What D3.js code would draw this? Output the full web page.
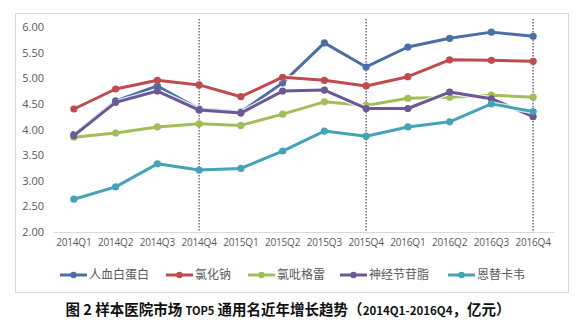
<!DOCTYPE html>
<html lang="zh">
	<head>
		<meta charset="utf-8">
		<title>TOP5 通用名近年增长趋势</title>
		<script src="https://d3js.org/d3.v7.min.js"></script>
		<style type="text/css">
			body { margin: 0; background: #ffffff; }
			svg { display: block; }
		</style>
	</head>
	<body>
		<script type="text/javascript">

			//Categories and series
			var quarters = ["2014Q1", "2014Q2", "2014Q3", "2014Q4", "2015Q1", "2015Q2",
							"2015Q3", "2015Q4", "2016Q1", "2016Q2", "2016Q3", "2016Q4"];
			var albumin   = [3.90, 4.56, 4.85, 4.40, 4.34, 4.91, 5.69, 5.22, 5.61, 5.78, 5.90, 5.82];
			var nacl      = [4.40, 4.79, 4.96, 4.87, 4.64, 5.02, 4.96, 4.85, 5.03, 5.36, 5.35, 5.33];
			var clopid    = [3.85, 3.93, 4.05, 4.11, 4.08, 4.30, 4.54, 4.47, 4.61, 4.63, 4.67, 4.63];
			var ganglio   = [3.88, 4.53, 4.75, 4.38, 4.32, 4.75, 4.77, 4.41, 4.41, 4.73, 4.60, 4.25];
			var entecavir = [2.64, 2.88, 3.33, 3.21, 3.24, 3.58, 3.97, 3.87, 4.05, 4.15, 4.50, 4.35];
			var seriesNames = ["人血白蛋白", "氯化钠", "氯吡格雷", "神经节苷脂", "恩替卡韦"];
			var yTicks = [2.00, 2.50, 3.00, 3.50, 4.00, 4.50, 5.00, 5.50, 6.00];
			var markedQuarters = ["2014Q4", "2015Q4", "2016Q4"];

			var seriesValues = [albumin, nacl, clopid, ganglio, entecavir];
			var colors = ["#4a6fa6", "#bf4b4f", "#a3bd5a", "#6c5897", "#45a3b7"];

			//Width and height
			var w = 575;
			var h = 325;

			var svg = d3.select("body")
						.append("svg")
						.attr("width", w)
						.attr("height", h);

			//Chart frame
			svg.append("rect")
				.attr("x", 15.5)
				.attr("y", 13.5)
				.attr("width", 553)
				.attr("height", 279)
				.attr("fill", "#ffffff")
				.attr("stroke", "#d9d9d9");

			//Scales
			var xScale = d3.scaleBand()
					.domain(quarters)
					.range([53, 554]);

			var yScale = d3.scaleLinear()
					.domain([2, 6])
					.range([232, 27]);

			function cx(q) { return xScale(q) + xScale.bandwidth() / 2; }

			//Y axis (labels only)
			var yAxis = d3.axisLeft(yScale)
					.tickValues(yTicks)
					.tickFormat(d3.format(".2f"))
					.tickSize(0)
					.tickPadding(0);

			var gy = svg.append("g")
				.attr("transform", "translate(44,0)")
				.call(yAxis);
			gy.select(".domain").remove();
			gy.selectAll("text")
				.attr("font-family", "'Open Sans', 'Noto Sans', sans-serif")
				.attr("font-size", "11px")
				.attr("fill", "#595959");

			//X axis
			var xAxis = d3.axisBottom(xScale)
					.tickSize(0)
					.tickPadding(7);

			var gx = svg.append("g")
				.attr("transform", "translate(0,232)")
				.call(xAxis);
			gx.select(".domain")
				.attr("stroke", "#d9d9d9");
			gx.selectAll("text")
				.attr("font-family", "'Open Sans', 'Noto Sans', sans-serif")
				.attr("font-size", "10px")
				.attr("letter-spacing", "-0.2px")
				.attr("fill", "#595959");

			//Dotted year-end markers
			svg.selectAll("line.marker")
				.data(markedQuarters)
				.enter()
				.append("line")
				.attr("class", "marker")
				.attr("x1", function(d) { return cx(d); })
				.attr("x2", function(d) { return cx(d); })
				.attr("y1", 19)
				.attr("y2", 232)
				.attr("stroke", "#595959")
				.attr("stroke-width", 1.3)
				.attr("stroke-dasharray", "1.5,1.5");

			//Lines
			var line = d3.line()
					.x(function(d, i) { return cx(quarters[i]); })
					.y(function(d) { return yScale(d); });

			var groups = svg.selectAll("g.series")
				.data(seriesValues)
				.enter()
				.append("g")
				.attr("class", "series");

			groups.append("path")
				.attr("d", line)
				.attr("fill", "none")
				.attr("stroke", "#ffffff")
				.attr("stroke-opacity", 0.8)
				.attr("stroke-width", 5.5)
				.attr("stroke-linejoin", "round");

			groups.append("path")
				.attr("d", line)
				.attr("fill", "none")
				.attr("stroke", function(d, i) { return colors[i]; })
				.attr("stroke-width", 3)
				.attr("stroke-linejoin", "round");

			groups.each(function(vals, i) {
				d3.select(this).selectAll("circle")
					.data(vals)
					.enter()
					.append("circle")
					.attr("cx", function(d, j) { return cx(quarters[j]); })
					.attr("cy", function(d) { return yScale(d); })
					.attr("r", 3.6)
					.attr("fill", colors[i]);
			});

			//Legend
			var legendX = [60, 166, 248, 340, 448];
			var legend = svg.selectAll("g.legend")
				.data(seriesNames)
				.enter()
				.append("g")
				.attr("class", "legend")
				.attr("transform", function(d, i) { return "translate(" + legendX[i] + ",275)"; });

			legend.append("line")
				.attr("x1", 0)
				.attr("x2", 27)
				.attr("stroke", function(d, i) { return colors[i]; })
				.attr("stroke-width", 3);

			legend.append("circle")
				.attr("cx", 13.5)
				.attr("r", 3.2)
				.attr("fill", function(d, i) { return colors[i]; });

			legend.append("text")
				.attr("x", 29)
				.attr("dy", "0.36em")
				.attr("font-family", "'Noto Sans CJK SC', sans-serif")
				.attr("font-size", "12px")
				.attr("fill", "#595959")
				.text(function(d) { return d; });

			//Caption
			var caption = svg.append("text")
				.attr("x", 288)
				.attr("y", 315)
				.attr("text-anchor", "middle")
				.attr("font-family", "'Noto Sans CJK SC', sans-serif")
				.attr("font-weight", "bold")
				.attr("font-size", "14.5px")
				.attr("fill", "#111111");
			caption.append("tspan").text("图 2  样本医院市场 ");
			caption.append("tspan").attr("font-size", "11px").text("TOP5");
			caption.append("tspan").text(" 通用名近年增长趋势（");
			caption.append("tspan").attr("font-size", "11.5px").text("2014Q1-2016Q4");
			caption.append("tspan").text("，亿元）");

		</script>
	</body>
</html>
